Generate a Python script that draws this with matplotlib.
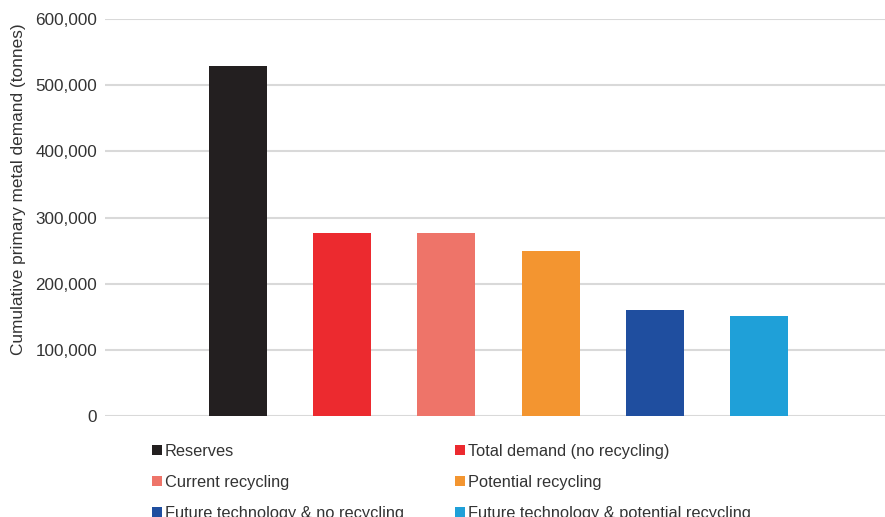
import matplotlib.pyplot as plt
from matplotlib.patches import Patch

plt.rcParams['font.family'] = ['Liberation Sans', 'DejaVu Sans']

# scenario names and cumulative primary metal demand (tonnes)
scenarios = ["Reserves", "Total demand (no recycling)", "Current recycling",
             "Potential recycling", "Future technology & no recycling",
             "Future technology & potential recycling"]
demand = [529000, 277000, 277000, 249000, 160000, 151000]
colors = ["#231f20", "#ec2a2f", "#ee7469", "#f39530", "#1f4e9f", "#1fa0d8"]

yticks = [0, 100000, 200000, 300000, 400000, 500000, 600000]
text_color = "#333333"

fig = plt.figure(figsize=(8.85, 5.17), dpi=100)
ax = fig.add_axes([0.1186, 0.1954, 0.8814, 0.7678])

x = list(range(len(demand)))
ax.bar(x, demand, width=0.557, color=colors, zorder=3)

ax.set_xlim(-1.276, 6.209)
ax.set_ylim(0, 600000)
ax.set_yticks(yticks)
ax.set_yticklabels([f"{v:,}" for v in yticks], fontsize=12.3, color=text_color)
ax.set_xticks([])
ax.tick_params(axis='y', length=0, pad=5.5)
ax.grid(axis='y', color="#d9d9d9", linewidth=1.5, zorder=0)
for s in ax.spines.values():
    s.set_visible(False)

ax.set_ylabel("Cumulative primary metal demand (tonnes)", fontsize=12.4,
              color=text_color)
ax.yaxis.set_label_coords(-0.101, 0.572)

# legend reads row by row, two entries per row
order = [0, 2, 4, 1, 3, 5]
handles = [Patch(facecolor=colors[i], edgecolor='none') for i in order]
labels = [scenarios[i] for i in order]
fig.legend(handles, labels, loc='upper left', bbox_to_anchor=(0.1714, 0.142),
           ncol=2, frameon=False, fontsize=11.8, labelcolor=text_color,
           handlelength=0.6, handleheight=0.6, handletextpad=0.2,
           labelspacing=0.98, columnspacing=3.13, borderpad=0, borderaxespad=0)

fig.savefig("out.png", dpi=100)
